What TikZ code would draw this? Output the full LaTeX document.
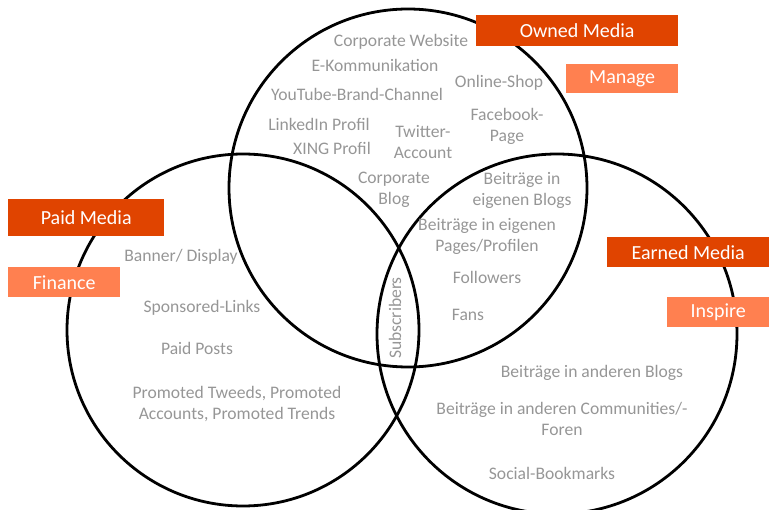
\documentclass[tikz,border=0pt]{standalone}
\usepackage{fontspec}
\setmainfont{Carlito}
\definecolor{darkor}{RGB}{224,68,0}
\definecolor{lightor}{RGB}{255,128,80}
\definecolor{txtgray}{RGB}{150,150,150}
\begin{document}
\begin{tikzpicture}[x=1pt,y=-1pt,
  circ/.style={draw=black,line width=2.8pt},
  item/.style={text=txtgray,font=\fontsize{17.6}{21}\selectfont,align=center,inner sep=0pt},
  tag/.style={fill=#1,text=white,font=\fontsize{20}{22}\selectfont,inner sep=0pt,anchor=north west}]
\useasboundingbox (0,0) rectangle (769,510);
\draw[circ] (408,188) circle (179);
\draw[circ] (243,330) circle (176);
\draw[circ] (557,334) circle (180);
% tags
\node[tag=darkor,minimum width=202pt,minimum height=31pt] (owned) at (476,15) {Owned Media};
\node[tag=lightor,minimum width=112pt,minimum height=29pt] (manage) at (566,64) {Manage};
\node[tag=darkor,minimum width=156pt,minimum height=37pt] (paid) at (8,199) {Paid Media};
\node[tag=lightor,minimum width=112pt,minimum height=30pt] (finance) at (8,267) {Finance};
\node[tag=darkor,minimum width=162pt,minimum height=30pt] (earned) at (607,237) {Earned Media};
\node[tag=lightor,minimum width=102pt,minimum height=30pt] (inspire) at (667,297) {Inspire};
% owned items
\node[item] (cw) at (401,42) {Corporate Website};
\node[item] (ek) at (375,65) {E-Kommunikation};
\node[item] (yt) at (357,94) {YouTube-Brand-Channel};
\node[item] (os) at (499,83) {Online-Shop};
\node[item] (fb) at (507,126) {Facebook-\\Page};
\node[item] (li) at (319,124) {LinkedIn Profil};
\node[item] (xi) at (332,148) {XING Profil};
\node[item] (tw) at (423,142) {Twitter-\\Account};
\node[item] (cb) at (394,190) {Corporate\\Blog};
\node[item] (bb) at (522,190) {Beiträge in\\eigenen Blogs};
\node[item] (bp) at (487,236) {Beiträge in eigenen\\Pages/Profilen};
\node[item] (fo) at (487,277) {Followers};
\node[item] (fa) at (468,315) {Fans};
\node[item,rotate=90] (su) at (395,318) {Subscribers};
% paid items
\node[item] (bd) at (181,257) {Banner/ Display};
\node[item] (sl) at (202,308) {Sponsored-Links};
\node[item] (pp) at (197,348) {Paid Posts};
\node[item] (pt) at (237,404) {Promoted Tweeds, Promoted\\Accounts, Promoted Trends};
% earned items
\node[item] (ba) at (592,373) {Beiträge in anderen Blogs};
\node[item] (bc) at (562,419) {Beiträge in anderen Communities/-\\Foren};
\node[item] (sb) at (552,473) {Social-Bookmarks};
\end{tikzpicture}
\end{document}
